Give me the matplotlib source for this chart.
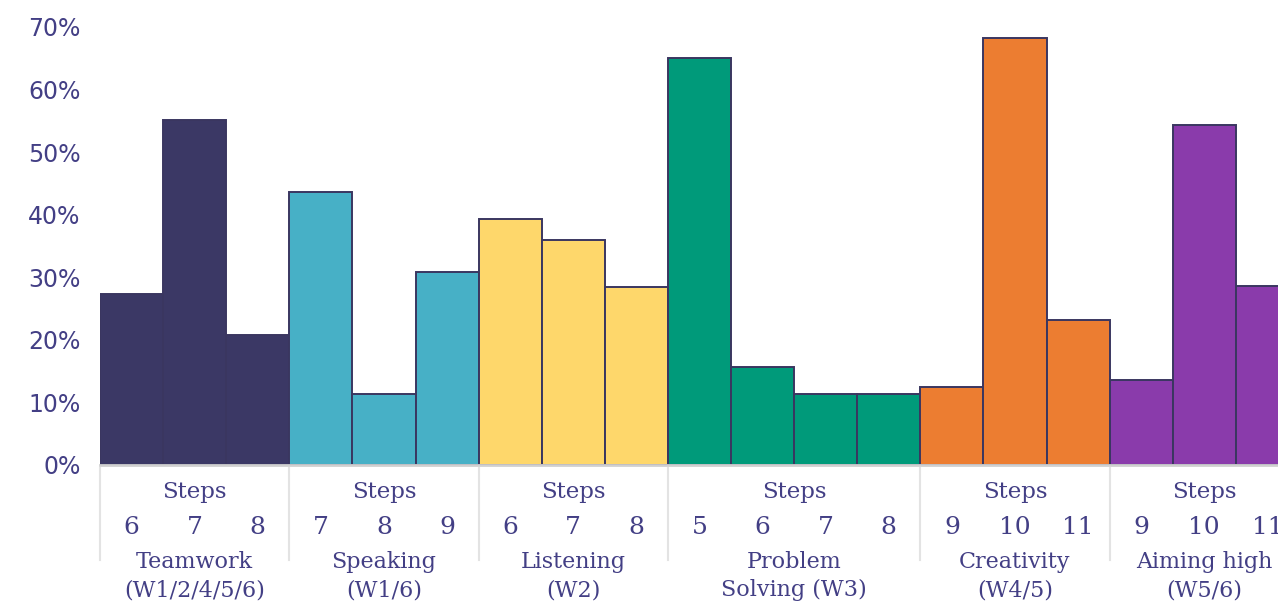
import matplotlib.pyplot as plt
from matplotlib.transforms import blended_transform_factory
from matplotlib.lines import Line2D
from matplotlib.ticker import FuncFormatter

# --- data ---
group_names = ['Teamwork', 'Speaking', 'Listening', 'Problem', 'Creativity', 'Aiming high']
group_subs = ['(W1/2/4/5/6)', '(W1/6)', '(W2)', 'Solving (W3)', '(W4/5)', '(W5/6)']
group_steps = [
    ['6', '7', '8'],
    ['7', '8', '9'],
    ['6', '7', '8'],
    ['5', '6', '7', '8'],
    ['9', '10', '11'],
    ['9', '10', '11'],
]
group_values = [
    [27.3, 55.1, 20.8],
    [43.6, 11.3, 30.8],
    [39.3, 35.9, 28.4],
    [65.0, 15.7, 11.3, 11.3],
    [12.5, 68.2, 23.2],
    [13.6, 54.3, 28.6],
]
group_colors = ['#3b3865', '#47b0c6', '#fed76b', '#009a7a', '#ec7d31', '#8a3bab']

text_color = '#433f85'
W, H = 1278, 604
bar_px = 63.1

fig = plt.figure(figsize=(W / 100, H / 100), dpi=100)
ax = fig.add_axes([100 / W, 1 - 465 / H, 1 - 100 / W, (465 - 27) / H])

trans = blended_transform_factory(ax.transData, fig.transFigure)
serif = 'DejaVu Serif'

x = 0
bounds = [0]
for name, sub, steps, vals, col in zip(group_names, group_subs, group_steps,
                                       group_values, group_colors):
    xs = [x + i + 0.5 for i in range(len(vals))]
    ax.bar(xs, vals, width=1.0, color=col, edgecolor='#3a3660', linewidth=1.4)
    for xi, s in zip(xs, steps):
        ax.text(xi, 1 - 527 / H, s, transform=trans, ha='center', va='center',
                fontsize=18, color=text_color, family=serif)
    mid = x + len(vals) / 2
    ax.text(mid, 1 - 492 / H, 'Steps', transform=trans, ha='center', va='center',
            fontsize=16.5, color=text_color, family=serif)
    ax.text(mid, 1 - 562 / H, name, transform=trans, ha='center', va='center',
            fontsize=16, color=text_color, family=serif)
    ax.text(mid, 1 - 590 / H, sub, transform=trans, ha='center', va='center',
            fontsize=16, color=text_color, family=serif)
    x += len(vals)
    bounds.append(x)

# group separators under the axis
for b in bounds:
    ax.add_line(Line2D([b, b], [1 - 468 / H, 1 - 560 / H], transform=trans,
                       color='#e3e3e3', linewidth=1.5, clip_on=False))

ax.set_xlim(0, (W - 100) / bar_px)
ax.set_ylim(0, 70)
ax.set_yticks(range(0, 71, 10))
ax.yaxis.set_major_formatter(FuncFormatter(lambda v, p: f'{int(v)}%'))
ax.tick_params(axis='y', length=0, pad=14, labelsize=17, labelcolor=text_color)
ax.set_xticks([])
for s in ['top', 'right', 'left']:
    ax.spines[s].set_visible(False)
ax.spines['bottom'].set_color('#d0d0d0')
ax.spines['bottom'].set_linewidth(2)

fig.savefig('out.png', dpi=100)
